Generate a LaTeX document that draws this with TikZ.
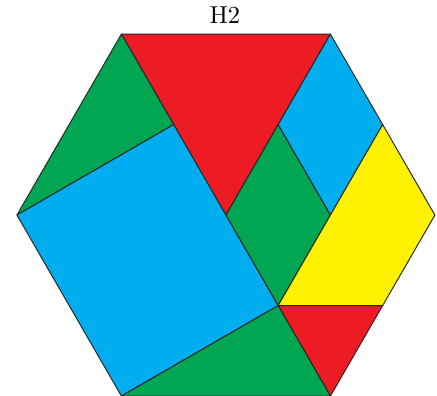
\documentclass[tikz,border=0pt]{standalone}
\usetikzlibrary{calc}

\definecolor{pbred}{RGB}{237,28,36}
\definecolor{pbgreen}{RGB}{0,166,81}
\definecolor{pbblue}{RGB}{0,174,239}
\definecolor{pbyellow}{RGB}{255,242,0}

\begin{document}
\begin{tikzpicture}[
  x=3cm, y=3cm,
  piece/.style={draw=black!85, thin, line join=round},
  tri/.style={piece, fill=pbred},
  rhomb/.style={piece, fill=pbgreen},
  sq/.style={piece, fill=pbblue},
  trap/.style={piece, fill=pbyellow},
  lab/.style={font=\normalsize},
]
\useasboundingbox (-1.081,-0.863) rectangle (1.010,1.029);
% hexagon corners
\coordinate (tl) at (120:1);
\coordinate (tr) at (60:1);
\coordinate (r) at (0:1);
\coordinate (br) at (-60:1);
\coordinate (bl) at (-120:1);
\coordinate (l) at (180:1);
\coordinate (o) at (0,0);
% inner points
\coordinate (a) at ($(tl)!0.5!(o)$);
\coordinate (f) at ($(tr)!0.5!(o)$);
\coordinate (b) at ($(o)!-1!(a)$);
\coordinate (c) at ($(r)!0.5!(br)$);
\coordinate (d) at ($(tr)!0.5!(r)$);
\coordinate (e) at (0.5,0);
% pieces
\filldraw[tri] (tl) -- (tr) -- (o) -- cycle;
\filldraw[rhomb] (tl) -- (a) -- (l) -- cycle;
\filldraw[sq] (l) -- (a) -- (b) -- (bl) -- cycle;
\filldraw[rhomb] (o) -- (f) -- (e) -- (b) -- cycle;
\filldraw[sq] (f) -- (tr) -- (d) -- (e) -- cycle;
\filldraw[trap] (b) -- (e) -- (d) -- (r) -- (c) -- cycle;
\filldraw[tri] (b) -- (c) -- (br) -- cycle;
\filldraw[rhomb] (bl) -- (b) -- (br) -- cycle;
\node[lab] (title) at (-0.005,0.957) {H2};
\end{tikzpicture}
\end{document}
